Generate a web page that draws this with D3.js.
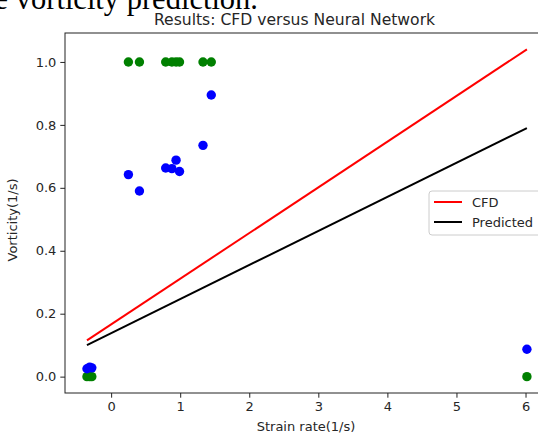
<!DOCTYPE html>
<html lang="en">
<head>
    <meta charset="UTF-8">
    <title>Results: CFD versus Neural Network</title>
    <script src="https://d3js.org/d3.v7.min.js"></script>
    <style>
        body { margin: 0; background: #fff; }
        svg { display: block; }
        text { font-family: "DejaVu Sans", sans-serif; fill: #262626; }
    </style>
</head>
<body>
    <div id="chart"></div>

    <script>
        // strain rate (x) shared by both scatter series
        const strain = [-0.35, -0.31, -0.28, 0.25, 0.41, 0.79, 0.88, 0.94, 0.99, 1.33, 1.45, 6.02];
        const vortCFD = [0, 0, 0, 1, 1, 1, 1, 1, 1, 1, 1, 0];
        const vortPred = [0.025, 0.03, 0.028, 0.642, 0.59, 0.663, 0.661, 0.688, 0.652, 0.735, 0.895, 0.087];

        // fitted lines, end points
        const lineX = [-0.35, 6.02];
        const lineCFD = [0.115, 1.04];
        const linePred = [0.1, 0.79];

        const xTicks = [0, 1, 2, 3, 4, 5, 6];
        const yTicks = [0, 0.2, 0.4, 0.6, 0.8, 1.0];

        const width = 538;
        const height = 434;
        const plotLeft = 65, plotTop = 33, plotBottom = 393, plotRight = 549;

        const svg = d3.select("#chart")
            .append("svg")
            .attr("width", width)
            .attr("height", height);

        // cut off text of the page above the figure
        svg.append("text")
            .attr("x", 258)
            .attr("y", 9)
            .attr("text-anchor", "end")
            .style("font-family", "'Liberation Serif', serif")
            .style("font-size", "30.5px")
            .style("fill", "#000")
            .text("the vorticity prediction.");

        const x = d3.scaleLinear().domain([-0.668, 6.34]).range([plotLeft, plotRight]);
        const y = d3.scaleLinear().domain([-0.052, 1.092]).range([plotBottom, plotTop]);

        svg.append("clipPath").attr("id", "plot")
            .append("rect")
            .attr("x", plotLeft).attr("y", plotTop)
            .attr("width", plotRight - plotLeft).attr("height", plotBottom - plotTop);

        const plot = svg.append("g").attr("clip-path", "url(#plot)");

        const line = d3.line().x(d => x(d[0])).y(d => y(d[1]));

        // scatter: CFD in green, prediction in blue
        plot.selectAll(".cfd")
            .data(d3.zip(strain, vortCFD))
            .enter()
            .append("circle")
            .attr("cx", d => x(d[0]))
            .attr("cy", d => y(d[1]))
            .attr("r", 4.7)
            .style("fill", "green");

        plot.selectAll(".pred")
            .data(d3.zip(strain, vortPred))
            .enter()
            .append("circle")
            .attr("cx", d => x(d[0]))
            .attr("cy", d => y(d[1]))
            .attr("r", 4.7)
            .style("fill", "blue");

        plot.append("path")
            .attr("d", line(d3.zip(lineX, lineCFD)))
            .style("fill", "none")
            .style("stroke", "red")
            .style("stroke-width", 2);

        plot.append("path")
            .attr("d", line(d3.zip(lineX, linePred)))
            .style("fill", "none")
            .style("stroke", "black")
            .style("stroke-width", 2);

        // axes
        const xAxis = svg.append("g")
            .attr("transform", "translate(0," + plotBottom + ")")
            .call(d3.axisBottom(x).tickValues(xTicks).tickFormat(d3.format("d")).tickSize(4.7).tickPadding(4));

        const yAxis = svg.append("g")
            .attr("transform", "translate(" + plotLeft + ",0)")
            .call(d3.axisLeft(y).tickValues(yTicks).tickFormat(d3.format(".1f")).tickSize(4.7).tickPadding(4));

        [xAxis, yAxis].forEach(function (g) {
            g.select(".domain").remove();
            g.selectAll(".tick line").style("stroke", "#222").style("stroke-width", 1);
            g.selectAll(".tick text")
                .style("font-family", "'DejaVu Sans', sans-serif")
                .style("font-size", "13px")
                .style("fill", "#262626");
        });

        // axes frame
        svg.append("rect")
            .attr("x", plotLeft).attr("y", plotTop)
            .attr("width", plotRight - plotLeft).attr("height", plotBottom - plotTop)
            .style("fill", "none")
            .style("stroke", "#222")
            .style("stroke-width", 1);

        svg.append("text")
            .attr("x", 294.5)
            .attr("y", 25)
            .attr("text-anchor", "middle")
            .style("font-size", "15.6px")
            .text("Results: CFD versus Neural Network");

        svg.append("text")
            .attr("x", 306)
            .attr("y", 431)
            .attr("text-anchor", "middle")
            .style("font-size", "13px")
            .text("Strain rate(1/s)");

        svg.append("text")
            .attr("transform", "translate(17,220) rotate(-90)")
            .attr("text-anchor", "middle")
            .style("font-size", "13px")
            .text("Vorticity(1/s)");

        // legend
        const legend = svg.append("g").attr("transform", "translate(429,191)");

        legend.append("rect")
            .attr("width", 130).attr("height", 44)
            .attr("rx", 3)
            .style("fill", "#fff")
            .style("fill-opacity", 0.8)
            .style("stroke", "#ccc");

        const entries = [["CFD", "red"], ["Predicted", "black"]];
        entries.forEach(function (e, i) {
            legend.append("line")
                .attr("x1", 5).attr("x2", 33)
                .attr("y1", 11 + i * 20).attr("y2", 11 + i * 20)
                .style("stroke", e[1])
                .style("stroke-width", 2);
            legend.append("text")
                .attr("x", 43)
                .attr("y", 15.5 + i * 20)
                .style("font-size", "13px")
                .text(e[0]);
        });
    </script>
</body>
</html>
